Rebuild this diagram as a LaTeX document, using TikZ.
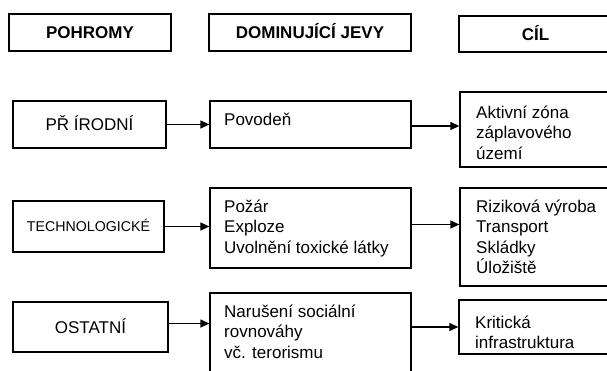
\documentclass[tikz,border=0pt]{standalone}
\usepackage{fontspec}
\setmainfont{Liberation Sans}
\usetikzlibrary{calc,arrows.meta}
\newcommand{\fl}{\rule{0pt}{16pt}}
\tikzset{
  hbox/.style={draw=black, line width=2pt, rectangle, inner sep=0pt},
  bbox/.style={draw=black, line width=1.3pt, rectangle, inner sep=0pt},
  htext/.style={font=\fontsize{17}{20.5}\selectfont\bfseries, anchor=base, inner sep=0pt},
  ltext/.style={font=\fontsize{17}{20.5}\selectfont, anchor=base, inner sep=0pt},
  btext/.style={font=\fontsize{17}{20.5}\selectfont, anchor=north west, align=left, inner sep=0pt},
  conn/.style={line width=1.3pt, -{Triangle[length=9pt,width=8pt]}}
}
\begin{document}
\begin{tikzpicture}[x=1pt,y=-1pt]
\useasboundingbox (0,0) rectangle (607,370);
% headers
\node[hbox, minimum width=162pt, minimum height=37pt] (h1) at (90,32.5) {};
\node[hbox, minimum width=202pt, minimum height=37pt] (h2) at (310,32.5) {};
\node[hbox, minimum width=153pt, minimum height=36pt] (h3) at (535.5,34) {};
\node[htext] (th1) at ($(h1.center)+(0,6.1)$) {POHROMY};
\node[htext] (th2) at ($(h2.center)+(0,6.1)$) {DOMINUJÍCÍ JEVY};
\node[htext] (th3) at ($(h3.center)+(0,6.1)$) {CÍL};
% row 1
\node[bbox, minimum width=153pt, minimum height=47pt] (p1) at (89.5,124.5) {};
\node[bbox, minimum width=201pt, minimum height=47pt] (d1) at (310.5,124.5) {};
\node[bbox, minimum width=152pt, minimum height=75pt] (c1) at (536,129.5) {};
\node[ltext] (tp1) at ($(p1.center)+(0,6.1)$) {PŘ ÍRODNÍ};
\node[btext] (td1) at (224,109) {\fl Povodeň};
\node[btext] (tc1) at (476,102) {\fl Aktivní zóna\\záplavového\\území};
\draw[conn] (p1.east) -- (p1.east -| d1.west);
\draw[conn] ([yshift=-1.5pt]d1.east) -- ([yshift=-1.5pt]d1.east -| c1.west);
% row 2
\node[bbox, minimum width=151pt, minimum height=51pt] (p2) at (88.5,226.5) {};
\node[bbox, minimum width=201pt, minimum height=80pt] (d2) at (310.5,228) {};
\node[bbox, minimum width=152pt, minimum height=98pt] (c2) at (536,237) {};
\node[ltext, font=\fontsize{14.2}{17}\selectfont] (tp2) at ($(p2.center)+(0,5)$) {TECHNOLOGICKÉ};
\node[btext] (td2) at (224,196) {\fl Požár\\Exploze\\Uvolnění toxické látky};
\node[btext] (tc2) at (476,196) {\fl Riziková výroba\\Transport\\Skládky\\Úložiště};
\draw[conn] (p2.east) -- (p2.east -| d2.west);
\draw[conn] ([yshift=3.5pt]d2.east) -- ([yshift=3.5pt]d2.east -| c2.west);
% row 3
\node[bbox, minimum width=155pt, minimum height=50pt] (p3) at (90.5,327) {};
\node[bbox, minimum width=201pt, minimum height=92pt] (d3) at (310.5,339) {};
\node[bbox, minimum width=153pt, minimum height=54pt] (c3) at (535.5,327) {};
\node[ltext] (tp3) at ($(p3.center)+(0,6.1)$) {OSTATNÍ};
\node[btext] (td3) at (224,301) {\fl Narušení sociální\\rovnováhy\\vč. terorismu};
\node[btext] (tc3) at (475,312) {\fl Kritická\\infrastruktura};
\draw[conn] ([yshift=3.5pt]p3.east) -- ([yshift=3.5pt]p3.east -| d3.west);
\draw[conn] (c3.west -| d3.east) -- (c3.west);
\end{tikzpicture}
\end{document}
